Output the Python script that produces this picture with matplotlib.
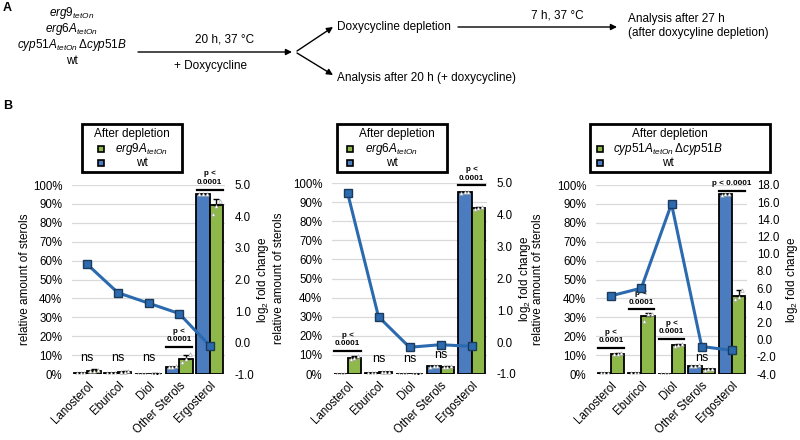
import numpy as np
import matplotlib
matplotlib.use("Agg")
import matplotlib.pyplot as plt
from matplotlib.patches import Rectangle

plt.rcParams["font.family"] = ["Liberation Sans", "DejaVu Sans"]
plt.rcParams["mathtext.fontset"] = "custom"
plt.rcParams["mathtext.rm"] = "Liberation Sans"
plt.rcParams["mathtext.it"] = "Liberation Sans:italic"
plt.rcParams["mathtext.bf"] = "Liberation Sans:bold"

BLUE = "#4A7CBF"
GREEN = "#8FB84B"
LINE = "#2B6AAE"
GRID = "#D9D9D9"

categories = ["Lanosterol", "Eburicol", "Diol", "Other Sterols", "Ergosterol"]

# --- panel 1 : erg9A_tetOn vs wt ---
wt_1 = [0.3, 0.5, 0.1, 3.8, 95.3]
mut_1 = [1.8, 1.3, 0.2, 8.0, 89.2]
err_1 = [0.6, 0.4, 0.1, 2.3, 3.4]
fc_1 = [2.48, 1.58, 1.25, 0.92, -0.10]
rep_wt_1 = [[0.3, 0.3, 0.3], [0.5, 0.5, 0.5], [0.1, 0.1, 0.1], [3.6, 3.8, 4.0], [95.0, 95.3, 95.5]]
rep_mut_1 = [[1.5, 1.8, 2.2], [1.1, 1.3, 1.6], [0.1, 0.2, 0.2], [6.5, 8.0, 10.5], [84.5, 89.0, 91.5]]

# --- panel 2 : erg6A_tetOn vs wt ---
wt_2 = [0.2, 0.5, 0.1, 4.1, 95.3]
mut_2 = [8.5, 1.0, 0.1, 3.9, 87.0]
err_2 = [0.9, 0.2, 0.05, 0.4, 0.6]
fc_2 = [4.70, 0.80, -0.16, -0.08, -0.13]
rep_wt_2 = [[0.2, 0.2, 0.2], [0.5, 0.5, 0.5], [0.1, 0.1, 0.1], [3.9, 4.1, 4.3], [95.0, 95.3, 95.5]]
rep_mut_2 = [[7.8, 8.5, 9.2], [0.9, 1.0, 1.1], [0.1, 0.1, 0.1], [3.6, 3.9, 4.2], [86.5, 87.0, 87.5]]

# --- panel 3 : cyp51A_tetOn dcyp51B vs wt ---
wt_3 = [0.3, 0.5, 0.1, 4.3, 95.0]
mut_3 = [10.8, 30.5, 15.5, 2.5, 41.5]
err_3 = [0.5, 2.0, 0.6, 0.3, 3.0]
fc_3 = [5.1, 6.0, 15.8, -0.8, -1.25]
rep_wt_3 = [[0.3, 0.3, 0.3], [0.5, 0.5, 0.5], [0.1, 0.1, 0.1], [4.0, 4.3, 4.6], [94.8, 95.0, 95.3]]
rep_mut_3 = [[10.4, 10.8, 11.2], [28.0, 31.5, 32.0], [15.0, 15.5, 16.0], [2.3, 2.5, 2.7], [39.5, 41.0, 44.5]]

strain_1 = r"$\mathit{erg9A}_{\mathit{tetOn}}$"
strain_2 = r"$\mathit{erg6A}_{\mathit{tetOn}}$"
strain_3 = r"$\mathit{cyp51A}_{\mathit{tetOn}}\,\Delta \mathit{cyp51B}$"

# (cat index, y of bar line in %, one-line text?)
pvals_1 = [(3, 14.2, False), (4, 97.5, False)]
pvals_2 = [(0, 11.9, False), (4, 98.7, False)]
pvals_3 = [(0, 13.7, False), (1, 34.2, False), (2, 18.4, False), (4, 97.0, True)]
ns_1 = [(0, 8.7), (1, 8.7), (2, 8.7)]
ns_2 = [(1, 7.9), (2, 7.9), (3, 10.2)]
ns_3 = [(3, 8.7)]

W, H = 800, 440
fig = plt.figure(figsize=(8, 4.4), dpi=100)


def rect(x0, x1, ytop, ybot):
    return [x0 / W, 1 - ybot / H, (x1 - x0) / W, (ybot - ytop) / H]


panels = [
    dict(rect=rect(72, 225, 185, 374), wt=wt_1, mut=mut_1, err=err_1, fc=fc_1,
         rwt=rep_wt_1, rmut=rep_mut_1, rlim=(-1, 5), rstep=1.0, pv=pvals_1, ns=ns_1,
         lx=-0.31, rx=1.25),
    dict(rect=rect(332, 487, 183, 374), wt=wt_2, mut=mut_2, err=err_2, fc=fc_2,
         rwt=rep_wt_2, rmut=rep_mut_2, rlim=(-1, 5), rstep=1.0, pv=pvals_2, ns=ns_2,
         lx=-0.34, rx=1.245),
    dict(rect=rect(596, 747, 185, 374), wt=wt_3, mut=mut_3, err=err_3, fc=fc_3,
         rwt=rep_wt_3, rmut=rep_mut_3, rlim=(-4, 18), rstep=2.0, pv=pvals_3, ns=ns_3,
         lx=-0.385, rx=1.30),
]

bw = 0.44
x = np.arange(len(categories))
for p in panels:
    ax = fig.add_axes(p["rect"])
    ax.set_axisbelow(True)
    ax.bar(x - bw / 2, p["wt"], bw, color=BLUE, edgecolor="black", lw=1.3, zorder=2)
    ax.bar(x + bw / 2, p["mut"], bw, color=GREEN, edgecolor="black", lw=1.3, zorder=2)
    ax.errorbar(x + bw / 2, p["mut"], yerr=[np.zeros(5), p["err"]], fmt="none",
                ecolor="black", elinewidth=1, capsize=2.5, capthick=1, zorder=3)
    for i in range(5):
        off = np.array([-0.12, 0.0, 0.12])
        ax.plot(i - bw / 2 + off, p["rwt"][i], ls="none", marker="^", ms=2.6,
                mfc="white", mec="#9a9a9a", mew=0.4, zorder=4)
        ax.plot(i + bw / 2 + off, p["rmut"][i], ls="none", marker="^", ms=2.6,
                mfc="white", mec="#9a9a9a", mew=0.4, zorder=4)
    ax.set_xlim(-0.5, 4.5)
    ax.set_ylim(0, 100)
    ax.set_yticks(np.arange(0, 101, 10))
    ax.set_yticklabels([f"{v}%" for v in range(0, 101, 10)], fontsize=8.3)
    ax.yaxis.grid(True, color=GRID, lw=0.9)
    ax.set_xticks(x)
    ax.set_xticklabels(categories, rotation=45, ha="right", rotation_mode="anchor",
                       fontsize=8.3)
    ax.tick_params(axis="both", length=0, pad=7)
    ax.tick_params(axis="x", pad=4)
    for s in ax.spines.values():
        s.set_visible(False)
    ax.set_ylabel("relative amount of sterols", fontsize=8.5, va="center")
    ax.yaxis.set_label_coords(p["lx"], 0.5)

    for i, y, one in p["pv"]:
        ax.plot([i - 0.42, i + 0.42], [y, y], color="black", lw=1.6, clip_on=False, zorder=6)
        if one:
            ax.text(i, y + 2.0, "p < 0.0001", ha="center", va="bottom", fontsize=5.8,
                    fontweight="bold", clip_on=False)
        else:
            ax.text(i, y + 2.0, "0.0001", ha="center", va="bottom", fontsize=5.8,
                    fontweight="bold", clip_on=False)
            ax.text(i, y + 6.6, "p <", ha="center", va="bottom", fontsize=5.8,
                    fontweight="bold", clip_on=False)
    for i, y in p["ns"]:
        ax.text(i, y, "ns", ha="center", va="center", fontsize=9)

    ax2 = ax.twinx()
    lo, hi = p["rlim"]
    ax2.plot(x, p["fc"], color=LINE, lw=2.2, marker="s", ms=6, mfc=LINE,
             mec="#1B3A5C", mew=1, zorder=5)
    ax2.set_ylim(lo, hi)
    ticks = np.arange(lo, hi + 0.01, p["rstep"])
    ax2.set_yticks(ticks)
    ax2.set_yticklabels([f"{t:.1f}" for t in ticks], fontsize=8.3)
    ax2.tick_params(axis="y", length=0, pad=7)
    for s in ax2.spines.values():
        s.set_visible(False)
    ax2.set_ylabel(r"log$_2$ fold change", fontsize=8.5, va="center")
    ax2.yaxis.set_label_coords(p["rx"], 0.5)

# overlay in pixel coordinates (top-left origin) for scheme A and legends
ov = fig.add_axes([0, 0, 1, 1], zorder=10)
ov.set_xlim(0, W)
ov.set_ylim(H, 0)
ov.axis("off")
ov.patch.set_alpha(0)

ov.text(3, 8, "A", fontsize=9, fontweight="bold", va="center")
ov.text(3, 106, "B", fontsize=9, fontweight="bold", va="center")
strains_a = [r"$\mathit{erg9}_{\mathit{tetOn}}$", r"$\mathit{erg6A}_{\mathit{tetOn}}$",
             r"$\mathit{cyp51A}_{\mathit{tetOn}}\,\Delta \mathit{cyp51B}$", "wt"]
for s, y in zip(strains_a, [13, 29, 45, 61]):
    ov.text(72, y, s, ha="center", va="center", fontsize=8.5)

arrow = dict(arrowstyle="-|>", color="black", lw=1, mutation_scale=9,
             shrinkA=0, shrinkB=0)
ov.annotate("", xy=(292, 52), xytext=(138, 52), arrowprops=arrow)
ov.text(225, 40, "20 h, 37 °C", ha="center", va="center", fontsize=8.5)
ov.text(210, 66, "+ Doxycycline", ha="center", va="center", fontsize=8.5)
ov.annotate("", xy=(333, 27), xytext=(297, 51), arrowprops=arrow)
ov.annotate("", xy=(333, 75), xytext=(297, 53), arrowprops=arrow)
ov.text(337, 27, "Doxycycline depletion", ha="left", va="center", fontsize=8.5)
ov.text(337, 78, "Analysis after 20 h (+ doxycycline)", ha="left", va="center", fontsize=8.5)
ov.annotate("", xy=(617, 27), xytext=(458, 27), arrowprops=arrow)
ov.text(557, 16, "7 h, 37 °C", ha="center", va="center", fontsize=8.5)
ov.text(628, 19, "Analysis after 27 h", ha="left", va="center", fontsize=8.5)
ov.text(628, 33, "(after doxycyline depletion)", ha="left", va="center", fontsize=8.5)

# legend boxes
legends = [
    dict(box=(82, 182), title_x=132, mk=101, tx=142, label=strain_1),
    dict(box=(337, 447), title_x=397, mk=350, tx=392, label=strain_2),
    dict(box=(590, 770), title_x=670, mk=600, tx=668, label=strain_3),
]
for lg in legends:
    x0, x1 = lg["box"]
    ov.add_patch(Rectangle((x0, 124), x1 - x0, 48, facecolor="white",
                           edgecolor="black", lw=2))
    ov.text(lg["title_x"], 134, "After depletion", ha="center", va="center", fontsize=8.5)
    for y, c, lab in [(149, GREEN, lg["label"]), (163, BLUE, "wt")]:
        ov.add_patch(Rectangle((lg["mk"] - 3, y - 3), 6, 6, facecolor=c,
                               edgecolor="black", lw=1.2))
        ov.text(lg["tx"], y, lab, ha="center", va="center", fontsize=8.5)

fig.savefig("out.png", dpi=100)
